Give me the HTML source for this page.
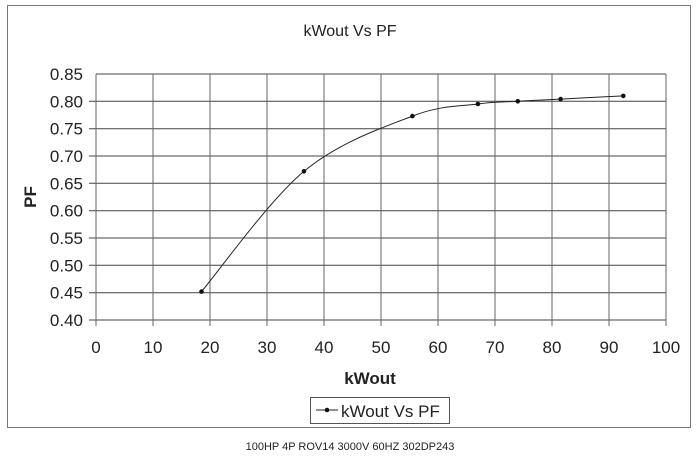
<!DOCTYPE html>
<html><head><style>body{margin:0;background:#fff}svg{display:block}</style></head><body>
<svg width="700" height="461" viewBox="0 0 700 461" font-family="Liberation Sans, sans-serif">
<rect width="700" height="461" fill="#fff"/>
<rect x="7.5" y="5.5" width="683" height="422" fill="none" stroke="#777" stroke-width="1"/>
<text x="350" y="36" font-size="16" text-anchor="middle" fill="#222">kWout Vs PF</text>
<g stroke="#444" stroke-width="1">
<line x1="96" y1="74" x2="666" y2="74"/><line x1="89" y1="101.3" x2="666" y2="101.3"/><line x1="89" y1="128.7" x2="666" y2="128.7"/><line x1="89" y1="156" x2="666" y2="156"/><line x1="89" y1="183.3" x2="666" y2="183.3"/><line x1="89" y1="210.7" x2="666" y2="210.7"/><line x1="89" y1="238" x2="666" y2="238"/><line x1="89" y1="265.3" x2="666" y2="265.3"/><line x1="89" y1="292.7" x2="666" y2="292.7"/><line x1="89" y1="320" x2="666" y2="320"/>
</g>
<g stroke="#666" stroke-width="1">
<line x1="96" y1="74" x2="96" y2="326"/><line x1="153" y1="74" x2="153" y2="326"/><line x1="210" y1="74" x2="210" y2="326"/><line x1="267" y1="74" x2="267" y2="326"/><line x1="324" y1="74" x2="324" y2="326"/><line x1="381" y1="74" x2="381" y2="326"/><line x1="438" y1="74" x2="438" y2="326"/><line x1="495" y1="74" x2="495" y2="326"/><line x1="552" y1="74" x2="552" y2="326"/><line x1="609" y1="74" x2="609" y2="326"/><line x1="666" y1="74" x2="666" y2="326"/>
</g>
<g font-size="17" text-anchor="end" fill="#222">
<text x="83" y="80">0.85</text><text x="83" y="107.3">0.80</text><text x="83" y="134.7">0.75</text><text x="83" y="162">0.70</text><text x="83" y="189.3">0.65</text><text x="83" y="216.7">0.60</text><text x="83" y="244">0.55</text><text x="83" y="271.3">0.50</text><text x="83" y="298.7">0.45</text><text x="83" y="326">0.40</text>
</g>
<g font-size="17" text-anchor="middle" fill="#222">
<text x="96" y="353">0</text><text x="153" y="353">10</text><text x="210" y="353">20</text><text x="267" y="353">30</text><text x="324" y="353">40</text><text x="381" y="353">50</text><text x="438" y="353">60</text><text x="495" y="353">70</text><text x="552" y="353">80</text><text x="609" y="353">90</text><text x="666" y="353">100</text>
</g>
<text x="370" y="384" font-size="17" font-weight="bold" text-anchor="middle" fill="#222">kWout</text>
<text transform="translate(36,197) rotate(-90)" font-size="17" font-weight="bold" text-anchor="middle" fill="#222">PF</text>
<path d="M201.5,291.6 C218.6,271.5 268.85,200.55 304,171.3 C339.15,142.05 383.4,127.3 412.4,116.1 C441.4,104.9 460.3,106.5 477.9,104 C495.5,101.5 504,102.1 517.8,101.3 C531.6,100.5 543,100 560.6,99.1 C578.2,98.2 612.85,96.4 623.3,95.9" fill="none" stroke="#222" stroke-width="1"/>
<g fill="#111">
<circle cx="201.5" cy="291.6" r="2.3"/><circle cx="304" cy="171.3" r="2.3"/><circle cx="412.4" cy="116.1" r="2.3"/><circle cx="477.9" cy="104" r="2.3"/><circle cx="517.8" cy="101.3" r="2.3"/><circle cx="560.6" cy="99.1" r="2.3"/><circle cx="623.3" cy="95.9" r="2.3"/>
</g>
<rect x="310.5" y="397.5" width="139" height="26" fill="#fff" stroke="#555"/>
<line x1="316" y1="410" x2="338" y2="410" stroke="#222"/><circle cx="327" cy="410" r="2.3" fill="#111"/>
<text x="341" y="417" font-size="17" fill="#222">kWout Vs PF</text>
<text x="350" y="450" font-size="11" text-anchor="middle" fill="#222">100HP 4P ROV14 3000V 60HZ 302DP243</text>
</svg>
</body></html>
